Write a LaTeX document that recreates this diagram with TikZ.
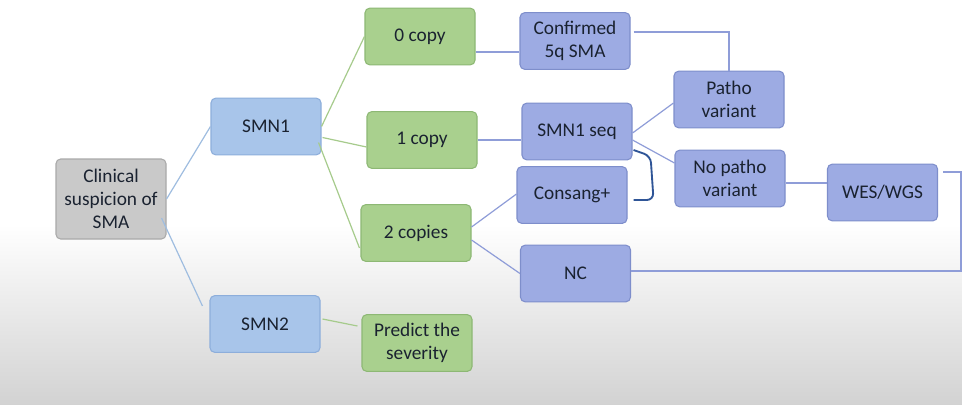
\documentclass[tikz,border=0pt]{standalone}
\usepackage{fontspec}
\setmainfont{Carlito}
\usetikzlibrary{calc}
\definecolor{txt}{HTML}{1A2230}
\definecolor{grayfill}{HTML}{C9C9C9}
\definecolor{grayline}{HTML}{A9A9A9}
\definecolor{bluefill}{HTML}{A8C5EA}
\definecolor{blueline}{HTML}{8DAEDB}
\definecolor{greenfill}{HTML}{A9D08E}
\definecolor{greenline}{HTML}{8DB874}
\definecolor{purfill}{HTML}{9DABE3}
\definecolor{purline}{HTML}{7E8ECB}
\definecolor{lnblue}{HTML}{9FBDE0}
\definecolor{lngreen}{HTML}{A6CB8C}
\definecolor{lnpur}{HTML}{8F9DD8}
\definecolor{brk}{HTML}{2F5597}
\definecolor{bgbot}{HTML}{D2D2D2}
\tikzset{
  box/.style={rectangle, rounded corners=3.5pt, line width=0.8pt, minimum width=82.5pt, minimum height=42.5pt, align=center, text=txt, font=\fontsize{14.5}{17.3}\selectfont, inner sep=1pt},
  graybox/.style={box, fill=grayfill, draw=grayline},
  bluebox/.style={box, fill=bluefill, draw=blueline},
  greenbox/.style={box, fill=greenfill, draw=greenline},
  purbox/.style={box, fill=purfill, draw=purline},
  lb/.style={draw=lnblue, line width=0.9pt},
  lg/.style={draw=lngreen, line width=0.9pt},
  lp/.style={draw=lnpur, line width=0.9pt},
  bracketline/.style={draw=brk, line width=1.4pt, rounded corners=5pt}
}
\begin{document}
\begin{tikzpicture}[x=0.75pt, y=-0.75pt]
\useasboundingbox (0,0) rectangle (962,408);
\fill[white] (0,0) rectangle (962,408);
\shade[top color=white, bottom color=bgbot] (0,225) rectangle (962,405);
\fill[white] (0,405) rectangle (962,408);

\node[graybox, minimum height=60pt] (clin) at (111,199) {Clinical\\suspicion of\\SMA};
\node[bluebox] (smn1) at (266,126.5) {SMN1};
\node[bluebox] (smn2) at (265,324) {SMN2};
\node[greenbox] (c0) at (420,36.5) {0 copy};
\node[greenbox] (c1) at (422,140) {1 copy};
\node[greenbox] (c2) at (416,233) {2 copies};
\node[greenbox] (pred) at (417,343) {Predict the\\severity};
\node[purbox] (conf) at (575,41) {Confirmed\\5q SMA};
\node[purbox] (seq) at (577,131.5) {SMN1 seq};
\node[purbox] (cons) at (572,195) {Consang+};
\node[purbox] (nc) at (575.5,273.5) {NC};
\node[purbox] (patho) at (729,99.5) {Patho\\variant};
\node[purbox] (npatho) at (730,178.5) {No patho\\variant};
\node[purbox] (wes) at (882.5,192.5) {WES/WGS};

\draw[lb] (clin.east) -- (smn1.west);
\draw[lb] ($(clin.east)+(-5,19)$) -- ($(smn2.west)+(-7,-18)$);
\draw[lg] (smn1.east) -- (c0.west);
\draw[lg] ($(smn1.east)+(1,11)$) -- ($(c1.west)+(0,7)$);
\draw[lg] ($(smn1.east)+(-3,16)$) -- ($(c2.west)+(-1,15)$);
\draw[lg] ($(smn2.east)+(2,-5)$) -- ($(pred.west)+(-4,-17)$);
\draw[lp] ($(c0.east)+(0,15.5)$) -- ($(conf.west)+(0,11)$);
\draw[lp] (c1.east) -- (seq.west |- c1.east);
\draw[lp] ($(c2.east)+(0,-6)$) -- ($(cons.west)+(0,-1)$);
\draw[lp] ($(c2.east)+(0,7)$) -- (nc.west);
\draw[lp] ($(conf.east)+(3,-9)$) -| (patho.north);
\draw[lp] ($(seq.east)+(0,1.5)$) -- ($(patho.west)+(0,3.5)$);
\draw[lp] ($(seq.east)+(0,8.5)$) -- ($(npatho.west)+(0,-15.5)$);
\coordinate (npe) at ($(npatho.east)+(0,4.5)$);
\draw[lp] (npe) -- (wes.west |- npe);
\coordinate (wesout) at ($(wes.east)+(5,-20.5)$);
\coordinate (ncin) at ($(nc.east)+(0,-2.5)$);
\draw[lp] (wesout) -- ++(18,0) |- (ncin);
\draw[bracketline] ($(seq.east)+(1,18.5)$) -- ++(17,6) -- ++(3,44) -- ++(-20,0);
\end{tikzpicture}
\end{document}
